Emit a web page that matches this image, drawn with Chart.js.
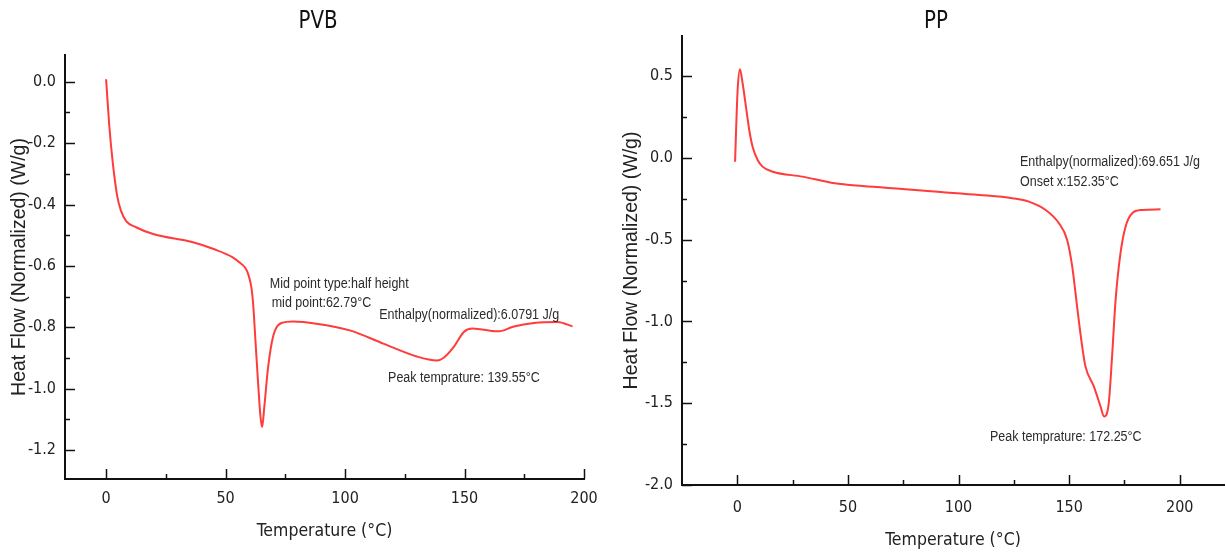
<!DOCTYPE html>
<html>
<head>
<meta charset="utf-8">
<script src="https://cdn.jsdelivr.net/npm/chart.js@4.4.1/dist/chart.umd.min.js"></script>
<style>
  body { margin: 0; background: #fff; }
  .wrap { position: relative; width: 1226px; height: 555px; }
  canvas { position: absolute; top: 0; }
  #pvbChart { left: 0; }
  #ppChart { left: 610px; }
</style>
</head>
<body>
<div class="wrap">
  <canvas id="pvbChart" width="610" height="555"></canvas>
  <canvas id="ppChart" width="616" height="555"></canvas>
</div>
<script>
// PVB curve
const pvbTemp = [0, 1.3, 2.7, 4.6, 6.2, 8.5, 12.5, 20, 36, 45, 53, 56, 58.3, 59.6, 60.8, 61.6, 62.4, 63.6, 64.6, 65.3,
  66.2, 67.8, 69.9, 73.4, 78.3, 88, 102, 116, 130, 138.5, 141.3, 145.5, 149.7, 153.2, 158.1, 164.4, 170.7, 179.1, 188.9, 195.2];
const pvbFlow = [0.008, -0.14, -0.257, -0.37, -0.42, -0.455, -0.474, -0.497, -0.522, -0.545, -0.572, -0.59, -0.607, -0.63, -0.67, -0.73, -0.83, -0.98, -1.09, -1.125,
  -1.06, -0.93, -0.83, -0.786, -0.781, -0.788, -0.81, -0.853, -0.895, -0.908, -0.899, -0.864, -0.815, -0.804, -0.808, -0.813, -0.797, -0.786, -0.783, -0.797];

// PP curve
const ppTemp = [-1.0, -0.6, 0.15, 1.2, 2.4, 3.9, 5.4, 6.9, 9.2, 11.4, 16, 29.5, 44, 56.7, 74.5, 92, 109.3, 124.3, 131.8, 139.4,
  145.4, 149.1, 151.4, 153.6, 155.9, 157.4, 161.2, 164.2, 165.8, 167.9, 169.4, 171, 173.2, 175.5, 178.5, 183, 191.3];
const ppFlow = [-0.023, 0.151, 0.416, 0.542, 0.457, 0.314, 0.171, 0.069, -0.012, -0.053, -0.084, -0.114, -0.155, -0.172, -0.19, -0.208, -0.226, -0.246, -0.267, -0.318,
  -0.399, -0.501, -0.664, -0.909, -1.153, -1.276, -1.398, -1.52, -1.581, -1.5, -1.215, -0.868, -0.583, -0.42, -0.338, -0.318, -0.314];

const xTickLabels = [0, 50, 100, 150, 200];
const pvbYTickLabels = [0, -0.2, -0.4, -0.6, -0.8, -1.0, -1.2];
const ppYTickLabels = [0.5, 0, -0.5, -1.0, -1.5, -2.0];

const pvbNotes = [
  { text: 'Mid point type:half height', x: 68.5, y: -0.66 },
  { text: 'mid point:62.79°C', x: 69.3, y: -0.722 },
  { text: 'Enthalpy(normalized):6.0791 J/g', x: 114.3, y: -0.761 },
  { text: 'Peak temprature: 139.55°C', x: 118, y: -0.966 }
];
const ppNotes = [
  { text: 'Enthalpy(normalized):69.651 J/g', x: 127.8, y: -0.024 },
  { text: 'Onset x:152.35°C', x: 127.8, y: -0.147 },
  { text: 'Peak temprature: 172.25°C', x: 114.2, y: -1.705 }
];

const NARROW = "'Liberation Sans Narrow', 'DejaVu Sans Condensed', 'Liberation Sans', sans-serif";
const near = (list, v) => list.some(t => Math.abs(t - v) < 1e-6);

// ticks point into the plot, long on labelled values, short otherwise
const inwardTicks = {
  id: 'inwardTicks',
  afterDraw(chart, args, opts) {
    const { ctx, chartArea } = chart;
    const xs = chart.scales.x;
    const ys = chart.scales.y;
    ctx.save();
    ctx.strokeStyle = '#111';
    ctx.lineWidth = 1.5;
    xs.ticks.forEach(t => {
      if (t.value <= xs.min) return;
      const px = Math.round(xs.getPixelForValue(t.value)) + 0.5;
      const len = near(opts.xMajor, t.value) ? 10 : 5;
      ctx.beginPath();
      ctx.moveTo(px, chartArea.bottom);
      ctx.lineTo(px, chartArea.bottom - len);
      ctx.stroke();
    });
    ys.ticks.forEach(t => {
      const py = Math.round(ys.getPixelForValue(t.value)) + 0.5;
      const len = near(opts.yMajor, t.value) ? 10 : 5;
      ctx.beginPath();
      ctx.moveTo(chartArea.left, py);
      ctx.lineTo(chartArea.left + len, py);
      ctx.stroke();
    });
    ctx.restore();
  }
};

// annotation texts (a bit taller than wide, like the source) and the panel title
const notesPlugin = {
  id: 'notes',
  afterDraw(chart, args, opts) {
    const { ctx } = chart;
    const xs = chart.scales.x;
    const ys = chart.scales.y;
    ctx.save();
    ctx.fillStyle = '#2b2b2b';
    ctx.font = "12.5px 'Liberation Sans', Arial, sans-serif";
    ctx.textAlign = 'left';
    ctx.textBaseline = 'middle';
    opts.notes.forEach(n => {
      ctx.save();
      ctx.translate(xs.getPixelForValue(n.x), ys.getPixelForValue(n.y));
      ctx.scale(1, 1.12);
      ctx.fillText(n.text, 0, 0);
      ctx.restore();
    });
    ctx.font = '22px ' + NARROW;
    ctx.fillStyle = '#111';
    ctx.textAlign = 'center';
    ctx.translate(opts.titleX, 22);
    ctx.scale(1, 1.1);
    ctx.fillText(opts.title, 0, 0);
    ctx.restore();
  }
};

function makeChart(id, temp, flow, cfg) {
  return new Chart(document.getElementById(id), {
    type: 'line',
    data: {
      datasets: [{
        data: temp.map((t, i) => ({ x: t, y: flow[i] })),
        borderColor: '#ff3b3b',
        borderWidth: 2,
        pointRadius: 0,
        cubicInterpolationMode: 'monotone',
        fill: false
      }]
    },
    options: {
      responsive: false,
      animation: false,
      layout: { padding: cfg.padding },
      plugins: {
        legend: { display: false },
        tooltip: { enabled: false },
        inwardTicks: { xMajor: xTickLabels, yMajor: cfg.yLabels },
        notes: { notes: cfg.notes, title: cfg.title, titleX: cfg.titleX }
      },
      scales: {
        x: {
          type: 'linear',
          min: cfg.xMin,
          max: cfg.xMax,
          afterFit(s) { s.height = cfg.xHeight; },
          grid: { display: false, drawTicks: false },
          border: { display: true, color: '#111', width: 2 },
          ticks: {
            stepSize: 25,
            includeBounds: false,
            autoSkip: false,
            maxRotation: 0,
            padding: cfg.xPad,
            color: '#222',
            font: { family: NARROW, size: 16 },
            callback: v => near(xTickLabels, v) ? String(v) : ''
          },
          title: {
            display: true,
            text: 'Temperature (°C)',
            color: '#222',
            font: { family: NARROW, size: 17.5 },
            padding: { top: 0, bottom: cfg.xTitlePad }
          }
        },
        y: {
          min: cfg.yMin,
          max: cfg.yMax,
          afterFit(s) { s.width = cfg.yWidth; },
          grid: { display: false, drawTicks: false },
          border: { display: true, color: '#111', width: 2 },
          ticks: {
            stepSize: cfg.yStep,
            includeBounds: false,
            autoSkip: false,
            padding: 9,
            color: '#222',
            font: { family: NARROW, size: 16 },
            callback: v => near(cfg.yLabels, v) ? v.toFixed(1) : ''
          },
          title: {
            display: true,
            text: 'Heat Flow (Normalized) (W/g)',
            color: '#222',
            font: { family: "'Liberation Sans', Arial, sans-serif", size: 19.5 },
            padding: { top: cfg.yTitlePad, bottom: 0 }
          }
        }
      }
    },
    plugins: [inwardTicks, notesPlugin]
  });
}

makeChart('pvbChart', pvbTemp, pvbFlow, {
  padding: { top: 55, right: 26, left: 0, bottom: 0 },
  xMin: -17.2, xMax: 200, xHeight: 76, xPad: 10, xTitlePad: 13,
  yMin: -1.294, yMax: 0.087, yStep: 0.1, yWidth: 65, yTitlePad: 8,
  yLabels: pvbYTickLabels, notes: pvbNotes, title: 'PVB', titleX: 318
});

makeChart('ppChart', ppTemp, ppFlow, {
  padding: { top: 36, right: 2, left: 0, bottom: 0 },
  xMin: -25, xMax: 220, xHeight: 70, xPad: 13, xTitlePad: 4,
  yMin: -2.0, yMax: 0.746, yStep: 0.25, yWidth: 72, yTitlePad: 10,
  yLabels: ppYTickLabels, notes: ppNotes, title: 'PP', titleX: 326
});
</script>
</body>
</html>
